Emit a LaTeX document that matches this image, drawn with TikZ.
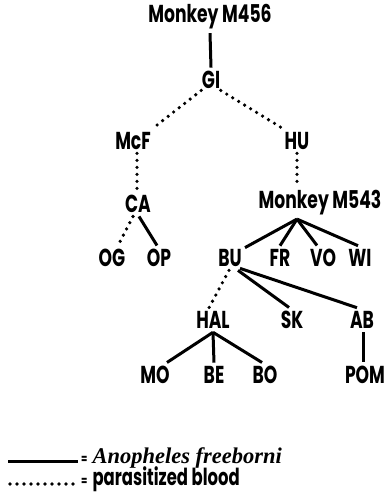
\documentclass[tikz,border=0pt]{standalone}
\usepackage{fontspec}
\usetikzlibrary{calc}
\newfontfamily\labfont[FakeStretch=0.7]{Poppins}
\newfontfamily\keyserif{Liberation Serif}
\begin{document}
\begin{tikzpicture}[x=1pt,y=-1pt,
  lbl/.style={font=\labfont\bfseries\fontsize{24.5}{24.5}\selectfont, inner sep=3.5pt},
  blood/.style={line width=3.6pt, line cap=round, dash pattern=on 0pt off 7pt},
  mosq/.style={line width=3pt},
  legtext/.style={anchor=base west, inner sep=0pt}]
\useasboundingbox (0,0) rectangle (388,493);

% names of the hosts and mosquito lots
\node[lbl] (m456) at (210,17)  {Monkey M456};
\node[lbl] (gi)   at (211,80)  {GI};
\node[lbl] (mcf)  at (133,141) {McF};
\node[lbl] (hu)   at (297,141) {HU};
\node[lbl] (ca)   at (138,204) {CA};
\node[lbl] (m543) at (320,203) {Monkey M543};
\node[lbl] (og)   at (112,258) {OG};
\node[lbl] (op)   at (159,258) {OP};
\node[lbl] (bu)   at (230,258) {BU};
\node[lbl] (fr)   at (280,258) {FR};
\node[lbl] (vo)   at (323,258) {VO};
\node[lbl] (wi)   at (360,258) {WI};
\node[lbl] (hal)  at (213,320) {HAL};
\node[lbl] (sk)   at (292,320) {SK};
\node[lbl] (ab)   at (362,320) {AB};
\node[lbl] (mo)   at (155,375) {MO};
\node[lbl] (be)   at (214,375) {BE};
\node[lbl] (bo)   at (265,375) {BO};
\node[lbl] (pom)  at (365,375) {POM};

% transfers
\draw[mosq]  (m456.south) -- (gi.north);
\draw[blood] ($(gi.south west)+(3,-2)$) -- ($(mcf.north east)+(-2,0)$);
\draw[blood] ($(gi.south east)+(-3,-2)$) -- ($(hu.north west)+(2,0)$);
\draw[blood] (mcf.south) ++(4,0) -- ($(ca.north)+(-1,0)$);
\draw[blood] (hu.south) -- (hu.south |- m543.north);
\draw[blood] ($(ca.south)+(-5,0)$) -- ($(og.north)+(6,0)$);
\draw[mosq]  ($(ca.south)+(1,0)$) -- ($(op.north)+(-2,0)$);
\coordinate (hub543) at ($(m543.south)+(-23,0)$);
\draw[mosq] (hub543) -- ($(bu.north)+(15,2)$);
\draw[mosq] (hub543) -- (fr.north);
\draw[mosq] (hub543) -- ($(vo.north)+(-6,0)$);
\draw[mosq] (hub543) -- ($(wi.north)+(-2,0)$);
\draw[blood] ($(bu.south)+(-1,0)$) -- ($(hal.north)+(-4,0)$);
\draw[mosq]  ($(bu.south)+(8,0)$) -- ($(sk.north)+(-3,0)$);
\draw[mosq]  ($(bu.south)+(10,-2)$) -- ($(ab.north)+(-5,0)$);
\coordinate (hubhal) at (hal.south);
\draw[mosq] (hubhal) -- ($(mo.north)+(12,0)$);
\draw[mosq] (hubhal) -- (be.north);
\draw[mosq] (hubhal) -- ($(bo.north)+(-3,0)$);
\draw[mosq] (ab.south) ++(1,0) -- ($(pom.north)+(-2,0)$);

% key
\coordinate (k1a) at (8,461);  \coordinate (k1b) at (78,461);
\coordinate (k2a) at (10,484); \coordinate (k2b) at (78,484);
\draw[mosq]  (k1a) -- (k1b);
\draw[blood] (k2a) -- (k2b);
\node[legtext] (key1) at ($(k1b)+(3,2)$)
  {{\labfont\bfseries\fontsize{13}{13}\selectfont =}\hspace{5pt}{\keyserif\fontsize{22.5}{22.5}\selectfont\bfseries\itshape Anopheles freeborni}};
\node[legtext] (key2) at ($(k2b)+(3,1)$)
  {{\labfont\bfseries\fontsize{13}{13}\selectfont =}\hspace{5pt}{\labfont\bfseries\fontsize{23.5}{23.5}\selectfont parasitized blood}};
\end{tikzpicture}
\end{document}
